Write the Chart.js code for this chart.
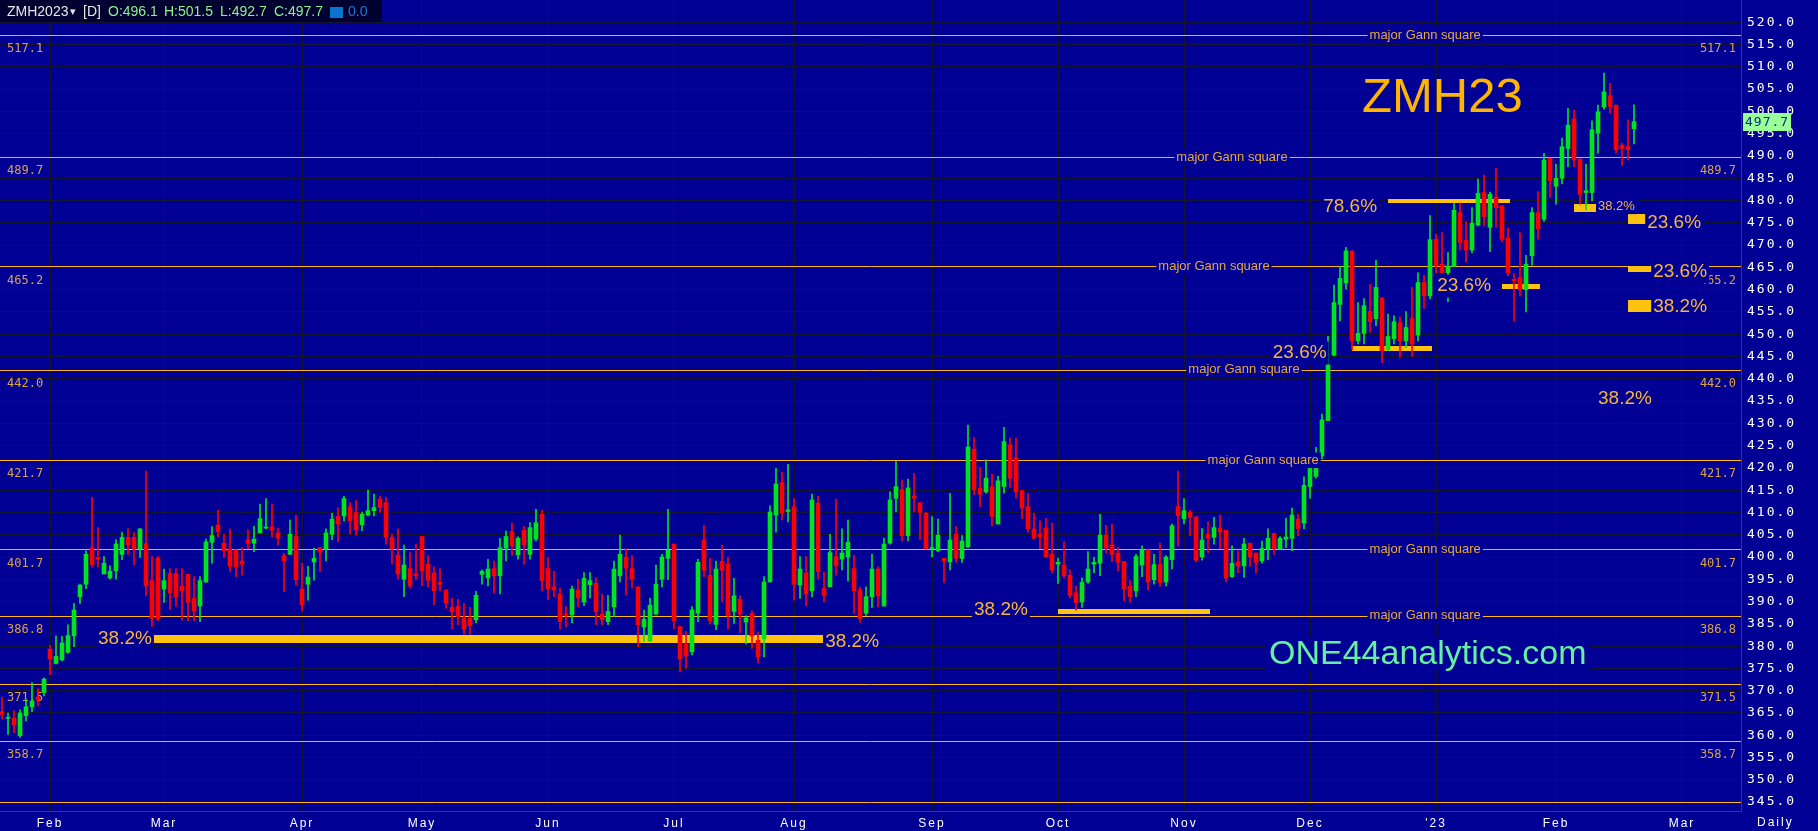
<!DOCTYPE html>
<html>
<head>
<meta charset="utf-8">
<script src="https://cdn.jsdelivr.net/npm/chart.js@4.4.1/dist/chart.umd.min.js"></script>
<style>
  html, body { margin: 0; padding: 0; background: #000094; overflow: hidden; }
</style>
</head>
<body>
<canvas id="chart" width="1818" height="831"></canvas>
<script>
// ================= DATA =================
const symbol = "ZMH2023";

// daily candles, 2022-01-20 .. 2023-02-21 (index = trading day)
const opens = [
  365.3, 363.8, 363.8, 359.9, 364.4, 366.4, 368.6, 369.6, 379.3, 376.1,
  376.9, 378.6, 382.3, 391.1, 393.9, 402.1, 399.9, 396.2, 395.3, 396.9,
  400.6, 404.4, 404.4, 401.8, 403.0, 394.7, 399.7, 392.8, 396.3, 396.3,
  393.5, 396.1, 390.7, 389.0, 394.4, 403.3, 407.2, 403.1, 401.8, 401.6,
  399.1, 403.8, 403.1, 405.4, 406.5, 406.8, 405.4, 400.3, 400.6, 404.6,
  392.8, 393.9, 398.9, 402.1, 401.8, 405.1, 409.1, 409.2, 411.3, 410.0,
  407.2, 409.4, 410.4, 413.0, 412.2, 404.4, 400.4, 395.0, 397.4, 396.2,
  404.6, 398.4, 396.4, 394.3, 392.6, 388.7, 388.9, 386.2, 386.2, 385.9,
  396.1, 395.3, 397.4, 395.8, 402.0, 405.7, 400.5, 406.0, 400.6, 404.0,
  409.6, 397.4, 393.3, 391.7, 387.2, 387.0, 392.6, 389.9, 393.8, 394.1,
  387.2, 385.5, 388.8, 395.8, 400.0, 397.4, 393.3, 384.3, 381.2, 387.2,
  395.0, 399.7, 402.9, 384.4, 380.4, 378.7, 387.4, 403.8, 395.9, 384.9,
  399.0, 398.4, 387.8, 390.5, 385.4, 387.3, 381.3, 381.6, 394.4, 409.4,
  416.7, 410.2, 411.3, 393.7, 396.4, 392.4, 412.1, 392.9, 393.3, 400.1,
  399.5, 400.0, 397.4, 392.6, 387.4, 391.1, 397.3, 389.0, 403.1, 413.2,
  415.1, 404.8, 413.7, 412.2, 409.8, 401.9, 401.4, 399.7, 398.9, 405.1,
  399.7, 402.3, 424.2, 415.4, 414.6, 415.8, 407.4, 415.8, 425.2, 422.3,
  414.9, 411.3, 406.3, 405.1, 406.5, 400.6, 398.4, 398.2, 395.9, 392.0,
  389.9, 394.4, 398.4, 398.6, 404.9, 402.7, 400.9, 399.0, 393.4, 392.4,
  398.2, 401.6, 394.9, 398.3, 394.4, 399.4, 411.3, 408.6, 410.0, 409.0,
  400.0, 405.1, 404.4, 406.4, 406.0, 395.6, 398.9, 398.0, 403.1, 400.9,
  399.1, 401.8, 405.3, 401.8, 404.0, 404.2, 408.5, 407.6, 415.8, 418.1,
  422.7, 430.6, 445.3, 456.7, 461.5, 468.6, 448.5, 450.2, 455.1, 453.5,
  458.1, 446.5, 449.0, 452.6, 448.5, 453.5, 449.8, 461.6, 458.6, 471.3,
  465.7, 463.8, 465.2, 477.3, 471.1, 468.9, 474.5, 481.8, 474.0, 480.8,
  478.8, 471.6, 462.3, 462.7, 460.0, 467.6, 477.3, 475.8, 489.5, 483.2,
  485.0, 491.7, 498.3, 489.3, 481.8, 481.8, 495.1, 501.0, 503.5, 501.4,
  492.4, 492.1, 496.1
];
const highs = [
  368.5, 365.0, 365.5, 365.7, 368.2, 371.8, 370.5, 372.9, 380.2, 382.3,
  382.2, 384.8, 389.6, 393.9, 401.4, 413.4, 406.6, 400.1, 398.0, 403.9,
  405.6, 406.4, 405.5, 406.4, 419.3, 400.1, 400.1, 397.3, 397.4, 397.4,
  397.4, 396.1, 395.6, 395.6, 404.0, 406.8, 410.5, 405.1, 406.3, 401.6,
  402.1, 406.1, 406.9, 411.9, 413.1, 411.9, 406.5, 400.8, 408.3, 409.4,
  398.6, 397.9, 402.0, 402.1, 406.3, 409.8, 411.1, 413.6, 412.2, 412.7,
  410.1, 415.0, 414.1, 413.6, 413.4, 405.1, 406.3, 402.7, 401.0, 402.9,
  404.6, 400.3, 397.8, 397.4, 392.6, 390.7, 390.5, 389.6, 388.7, 392.3,
  397.1, 399.5, 399.1, 404.2, 405.8, 407.6, 404.5, 406.9, 407.7, 410.7,
  410.5, 399.9, 396.8, 393.0, 388.9, 393.5, 395.0, 396.5, 396.5, 395.4,
  391.7, 391.4, 399.1, 404.9, 401.9, 400.3, 393.3, 388.1, 390.7, 398.2,
  400.6, 410.7, 402.9, 384.4, 383.3, 388.9, 399.5, 407.1, 399.7, 399.1,
  402.7, 400.0, 395.2, 391.3, 386.8, 387.9, 383.2, 395.6, 411.5, 419.9,
  419.0, 420.8, 413.1, 400.1, 400.1, 414.1, 413.7, 396.7, 405.1, 413.0,
  406.3, 408.3, 400.4, 393.2, 393.3, 400.6, 397.8, 404.2, 414.6, 421.4,
  417.3, 417.5, 418.8, 412.2, 410.1, 409.1, 408.5, 399.7, 414.3, 406.8,
  404.8, 429.6, 426.8, 420.1, 421.8, 418.6, 418.1, 429.1, 426.7, 426.7,
  415.1, 414.3, 409.8, 408.1, 408.7, 407.6, 399.7, 403.4, 397.1, 393.4,
  395.3, 401.2, 399.9, 409.6, 407.1, 407.4, 402.1, 399.0, 394.7, 400.6,
  402.5, 401.6, 400.6, 403.1, 400.3, 407.4, 419.3, 413.1, 410.5, 409.0,
  406.4, 407.9, 408.9, 409.4, 406.0, 402.5, 401.4, 404.2, 403.1, 400.9,
  403.6, 406.3, 405.3, 404.6, 408.7, 411.0, 409.6, 418.0, 420.1, 424.6,
  432.1, 449.5, 461.0, 465.3, 469.5, 468.9, 457.1, 458.0, 461.2, 466.6,
  458.2, 454.5, 454.1, 453.9, 455.1, 460.5, 463.8, 463.2, 476.6, 472.4,
  472.8, 468.3, 479.4, 479.4, 475.2, 478.4, 484.8, 485.7, 481.9, 487.2,
  478.8, 473.8, 463.6, 472.8, 467.7, 478.4, 482.0, 490.6, 489.5, 488.2,
  494.0, 500.7, 500.3, 489.3, 488.2, 497.9, 501.4, 508.6, 506.3, 501.4,
  492.9, 498.1, 501.5
];
const lows = [
  363.6, 360.2, 360.6, 359.5, 363.2, 365.3, 366.6, 368.8, 373.6, 376.0,
  376.7, 378.4, 379.9, 389.5, 392.9, 397.7, 397.7, 396.2, 395.0, 395.0,
  399.4, 400.6, 398.2, 399.9, 391.3, 384.4, 385.7, 389.8, 388.2, 388.9,
  385.8, 385.7, 385.7, 385.5, 394.3, 398.6, 404.5, 399.9, 396.7, 395.6,
  395.9, 401.8, 401.2, 405.4, 406.3, 404.5, 402.7, 392.2, 400.6, 393.7,
  387.9, 390.3, 394.8, 396.7, 399.1, 403.9, 403.4, 408.1, 405.1, 404.9,
  405.9, 409.2, 409.2, 410.0, 402.9, 398.4, 395.0, 391.1, 393.0, 394.9,
  393.5, 393.3, 389.3, 392.4, 388.5, 383.8, 384.8, 382.7, 382.7, 385.2,
  393.9, 393.5, 391.9, 391.7, 399.1, 400.4, 399.5, 398.4, 399.5, 403.6,
  392.4, 390.5, 391.1, 383.8, 384.3, 385.2, 388.8, 389.1, 390.8, 384.8,
  384.8, 384.8, 386.6, 394.4, 391.5, 393.0, 379.8, 381.0, 381.0, 387.0,
  393.3, 394.9, 383.9, 374.2, 375.0, 378.0, 385.5, 395.6, 384.9, 383.7,
  389.9, 383.9, 385.1, 383.0, 380.5, 379.5, 376.3, 377.6, 394.4, 405.6,
  408.3, 407.9, 390.3, 390.7, 389.0, 391.1, 395.0, 389.9, 393.3, 395.9,
  397.1, 394.6, 387.4, 385.3, 386.9, 388.7, 388.8, 389.0, 402.9, 410.1,
  403.6, 403.6, 410.1, 403.9, 401.8, 400.0, 401.2, 394.3, 397.1, 398.8,
  398.8, 402.1, 414.0, 411.3, 414.3, 407.0, 407.4, 414.3, 415.6, 413.2,
  408.6, 405.6, 404.0, 401.9, 399.9, 396.5, 394.1, 395.3, 390.8, 388.1,
  388.7, 394.1, 396.5, 395.8, 400.9, 399.0, 396.9, 390.2, 389.8, 391.1,
  395.6, 392.6, 393.9, 393.4, 393.5, 397.3, 402.5, 407.4, 404.8, 398.9,
  399.3, 401.0, 402.9, 401.8, 394.4, 395.4, 396.5, 395.4, 397.9, 396.4,
  398.6, 399.4, 400.6, 401.8, 402.1, 401.4, 404.8, 406.3, 413.2, 417.7,
  422.0, 430.6, 445.1, 453.0, 460.1, 446.5, 447.8, 447.8, 450.4, 451.9,
  443.6, 446.3, 447.8, 444.8, 447.0, 445.0, 448.5, 455.8, 457.9, 463.8,
  463.8, 457.3, 465.2, 468.9, 466.2, 468.3, 474.3, 474.3, 468.5, 474.0,
  470.7, 463.1, 453.0, 458.6, 455.0, 465.5, 471.3, 475.3, 480.7, 479.2,
  483.7, 487.6, 487.6, 479.2, 477.9, 479.9, 490.6, 500.5, 499.6, 490.6,
  487.9, 489.1, 492.7
];
const closes = [
  364.7, 364.0, 362.3, 365.0, 366.4, 367.7, 367.9, 372.6, 377.1, 377.7,
  380.7, 382.4, 388.1, 393.7, 400.6, 398.3, 399.5, 398.6, 396.8, 402.9,
  404.4, 402.7, 401.8, 406.3, 393.5, 386.2, 386.1, 394.7, 392.0, 391.1,
  392.4, 389.8, 387.9, 394.7, 403.4, 404.8, 405.7, 401.4, 397.9, 397.8,
  398.4, 403.1, 404.0, 408.6, 406.6, 406.0, 404.2, 399.1, 405.1, 394.9,
  389.3, 395.5, 399.7, 401.1, 405.4, 408.5, 407.4, 413.1, 408.1, 406.1,
  409.6, 410.4, 411.1, 411.1, 404.4, 401.8, 396.2, 398.2, 393.5, 395.8,
  396.9, 394.8, 392.4, 393.9, 389.6, 387.7, 386.6, 383.8, 384.6, 391.4,
  396.8, 397.3, 395.8, 402.1, 404.6, 402.5, 404.2, 402.7, 406.6, 407.7,
  394.7, 392.8, 392.6, 385.5, 387.0, 392.8, 390.8, 395.2, 394.7, 387.7,
  385.9, 387.8, 397.3, 400.6, 397.5, 395.0, 384.8, 386.0, 389.2, 393.9,
  400.0, 401.5, 385.7, 377.1, 377.8, 388.1, 398.8, 397.0, 385.7, 397.3,
  397.0, 386.9, 391.3, 387.2, 386.3, 382.3, 377.6, 394.4, 410.1, 416.4,
  409.8, 410.6, 393.9, 397.3, 391.7, 412.8, 396.7, 391.4, 401.0, 398.0,
  400.9, 403.3, 392.4, 386.2, 391.1, 397.3, 391.3, 402.9, 412.8, 415.8,
  404.8, 415.5, 413.2, 410.0, 401.8, 402.0, 404.9, 399.1, 403.8, 399.7,
  403.6, 424.7, 415.1, 414.1, 417.7, 409.1, 417.1, 425.9, 417.7, 414.6,
  411.0, 406.3, 404.2, 404.5, 400.0, 397.1, 398.8, 395.8, 391.4, 389.8,
  394.3, 397.3, 398.8, 404.9, 402.0, 400.6, 398.8, 392.8, 391.1, 400.1,
  401.6, 394.4, 398.3, 394.3, 400.0, 407.0, 409.3, 410.4, 408.9, 399.3,
  403.8, 404.2, 406.6, 405.6, 395.3, 398.6, 398.0, 402.9, 400.0, 398.8,
  401.9, 404.2, 401.9, 404.2, 404.5, 409.4, 406.4, 416.1, 419.9, 420.1,
  430.8, 443.1, 457.1, 462.5, 468.7, 448.5, 450.2, 456.4, 452.8, 460.5,
  446.3, 449.5, 452.8, 448.5, 451.5, 447.8, 461.6, 458.6, 471.2, 465.3,
  463.8, 465.3, 477.8, 470.6, 468.9, 474.9, 481.6, 476.4, 481.4, 478.4,
  471.3, 463.8, 462.0, 460.0, 465.7, 477.3, 473.6, 489.1, 484.4, 485.0,
  492.1, 496.9, 489.1, 481.4, 482.2, 495.9, 499.9, 504.4, 501.1, 491.4,
  491.7, 491.4, 497.7
];

// x axis: month labels at the first trading day of each month
const monthNames = ["Feb", "Mar", "Apr", "May", "Jun", "Jul", "Aug", "Sep", "Oct", "Nov", "Dec", "'23", "Feb", "Mar"];
const monthIdx   = [8, 27, 50, 70, 91, 112, 132, 155, 176, 197, 218, 239, 259, 280];

// y axis ticks
const priceTicks = [];
for (let v = 345; v <= 520; v += 5) priceTicks.push(v);

// "major Gann square" levels and where their label sits (bar index)
const gannLevels = [517.1, 489.7, 465.2, 442.0, 421.7, 401.7, 386.8, 371.5, 358.7];
const gannTagIdx = [237.2, 205, 202, 207, 210.2, 237.2, 237.2, null, null];
const baseLevels = [345.0];

// fib markers: [price, from index, to index]
const fibBars = [
  [381.6, 25.2, 136.8],
  [387.7, 176, 201.3],
  [446.8, 225, 238.3],
  [479.9, 231, 251.3],
  [460.7, 250, 256.3],
  [478.3, 262, 266],
  [475.9, 271, 274],
  [464.6, 271, 275],
  [456.4, 271, 275]
];
// fib texts: [text, index (left edge), price]
const fibTexts = [
  ["38.2%", 16, 381.6],
  ["38.2%", 137.2, 380.9],
  ["38.2%", 162, 388.1],
  ["23.6%", 211.8, 445.8],
  ["78.6%", 220.2, 478.7],
  ["23.6%", 239.2, 460.8],
  ["38.2%", 266, 478.7],
  ["23.6%", 274.2, 474.9],
  ["23.6%", 275.2, 464.0],
  ["38.2%", 275.2, 456.1],
  ["38.2%", 266, 435.4]
];

// ================= STYLE =================
const NAVY = "#000094";
const GRID = "#14142a";
const GREEN = "#00e41c";
const RED = "#ff0000";
const LINE = "#ffb61e";
const BAR = "#ffc20e";
const TXT = "#f7b53a";
const LBL = "#dca24a";

const fibBarPx = [8, 5, 5, 4, 5, 8, 10, 6, 12];
const fibFontPx = [19, 19, 19, 19, 19, 19, 13, 19, 19, 19, 19];

const colors = closes.map((c, i) => c >= opens[i] ? GREEN : RED);
const last = closes.length - 1;

function tag(c, txt, px, py, font, color, align) {
  c.font = font;
  c.textAlign = align;
  c.textBaseline = "middle";
  const w = c.measureText(txt).width;
  const size = parseInt(font.match(/(\d+)px/)[1]);
  const x0 = align === "center" ? px - w / 2 : px;
  c.fillStyle = NAVY;
  c.fillRect(x0 - 2, py - size * 0.6, w + 4, size * 1.2);
  c.fillStyle = color;
  c.fillText(txt, px, py);
}

// ================= PLUGIN =================
const decor = {
  id: "decor",
  beforeDraw(chart) {
    const c = chart.ctx;
    c.save();
    c.fillStyle = NAVY;
    c.fillRect(0, 0, chart.width, chart.height);
    c.restore();
    c.letterSpacing = "2px";
  },
  beforeDatasetsDraw(chart) {
    const c = chart.ctx, xs = chart.scales.x, ys = chart.scales.y, a = chart.chartArea;
    c.letterSpacing = "0px";
    c.save();

    c.strokeStyle = LINE;
    c.lineWidth = 1;
    gannLevels.concat(baseLevels).forEach(v => {
      const py = Math.round(ys.getPixelForValue(v)) + 0.5;
      c.beginPath();
      c.moveTo(a.left, py);
      c.lineTo(a.right, py);
      c.stroke();
    });

    c.fillStyle = BAR;
    fibBars.forEach((b, k) => {
      const x0 = xs.getPixelForValue(b[1]);
      const x1 = xs.getPixelForValue(b[2]);
      const py = ys.getPixelForValue(b[0]);
      const h = fibBarPx[k];
      c.fillRect(Math.round(x0), Math.round(py - h / 2), Math.round(x1 - x0), h);
    });

    c.font = '12px "DejaVu Sans Mono"';
    c.fillStyle = LBL;
    c.textBaseline = "middle";
    gannLevels.forEach(v => {
      const py = ys.getPixelForValue(v) + 14;
      c.textAlign = "left";
      c.fillText(v.toFixed(1), a.left + 7, py);
      c.textAlign = "right";
      c.fillText(v.toFixed(1), a.right - 5, py);
    });
    c.restore();
  },
  afterDatasetsDraw(chart) {
    const c = chart.ctx, xs = chart.scales.x, ys = chart.scales.y;
    c.save();
    c.letterSpacing = "0px";

    gannLevels.forEach((v, k) => {
      if (gannTagIdx[k] === null) return;
      tag(c, "major Gann square", xs.getPixelForValue(gannTagIdx[k]), ys.getPixelForValue(v),
        '13px "Liberation Sans"', "#e9a93a", "center");
    });

    fibTexts.forEach((t, k) => {
      tag(c, t[0], xs.getPixelForValue(t[1]), ys.getPixelForValue(t[2]),
        fibFontPx[k] + 'px "Liberation Sans"', TXT, "left");
    });

    // big symbol + site
    c.textAlign = "left";
    c.textBaseline = "alphabetic";
    c.font = '49px "Liberation Sans"';
    c.fillStyle = "#ffb400";
    c.fillText("ZMH23", 1362, 112);

    c.font = '34px "Liberation Sans"';
    const site = "ONE44analytics.com";
    const sw = c.measureText(site).width;
    c.fillStyle = NAVY;
    c.fillRect(1266, 638, sw + 6, 32);
    c.fillStyle = "#66f0a0";
    c.fillText(site, 1269, 664);
    c.restore();
  },
  afterDraw(chart) {
    const c = chart.ctx, ys = chart.scales.y, a = chart.chartArea;
    c.save();
    c.letterSpacing = "0px";

    // last price marker on the axis
    const py = ys.getPixelForValue(closes[last]);
    c.fillStyle = "#99ff99";
    c.fillRect(a.right + 2, Math.round(py) - 9, 48, 18);
    c.font = '13px "DejaVu Sans Mono"';
    c.letterSpacing = "1px";
    c.fillStyle = "#0a2a8a";
    c.textAlign = "left";
    c.textBaseline = "middle";
    c.fillText(closes[last].toFixed(1), a.right + 4, py + 1);

    // period label
    c.font = '12px "Liberation Sans"';
    c.letterSpacing = "2px";
    c.fillStyle = "#ffffff";
    c.fillText("Daily", a.right + 16, 823);
    c.letterSpacing = "0px";

    // header box
    c.fillStyle = "#000030";
    c.fillRect(0, 0, 382, 22);
    c.font = '14px "Liberation Sans"';
    c.fillStyle = "#e6e6e6";
    c.fillText(symbol, 7, 12);
    c.font = '11px "DejaVu Sans"';
    c.fillText("\u25BE", 70, 12);
    c.font = '14px "Liberation Sans"';
    c.fillText("[D]", 83, 12);
    c.fillStyle = "#8ef08e";
    c.fillText("O:" + opens[last].toFixed(1), 108, 12);
    c.fillText("H:" + highs[last].toFixed(1), 164, 12);
    c.fillText("L:" + lows[last].toFixed(1), 220, 12);
    c.fillText("C:" + closes[last].toFixed(1), 274, 12);
    c.fillStyle = "#0a74d0";
    c.fillRect(330, 7, 13, 11);
    c.fillStyle = "#1a7ad6";
    c.fillText("0.0", 348, 12);
    c.restore();
  }
};

// ================= CHART =================
const ctx = document.getElementById("chart").getContext("2d");

new Chart(ctx, {
  type: "bar",
  data: {
    datasets: [
      {
        label: "body",
        data: opens.map((o, i) => ({ x: i, y: [o, closes[i]] })),
        backgroundColor: colors,
        borderWidth: 0,
        barThickness: 4,
        minBarLength: 1,
        grouped: false,
        order: 0
      },
      {
        label: "wick",
        data: lows.map((l, i) => ({ x: i, y: [l, highs[i]] })),
        backgroundColor: colors,
        borderWidth: 0,
        barThickness: 1,
        grouped: false,
        order: 1
      }
    ]
  },
  options: {
    responsive: false,
    animation: false,
    events: [],
    layout: { padding: 0 },
    plugins: {
      legend: { display: false },
      tooltip: { enabled: false }
    },
    scales: {
      x: {
        type: "linear",
        min: -1 / 3,
        max: 1741 / 6 - 1 / 3,
        offset: false,
        afterBuildTicks: s => { s.ticks = monthIdx.map(v => ({ value: v })); },
        afterFit: s => { s.height = 20; s.paddingLeft = 0; s.paddingRight = 0; },
        ticks: {
          callback: (v, i) => monthNames[i],
          color: "#ffffff",
          font: { family: "Liberation Sans", size: 12 },
          autoSkip: false,
          maxRotation: 0,
          padding: 5
        },
        grid: { color: GRID, drawTicks: false, offset: false },
        border: { color: "#3c3c50" }
      },
      y: {
        position: "right",
        min: 343,
        max: 525,
        afterBuildTicks: s => { s.ticks = priceTicks.map(v => ({ value: v })); },
        afterFit: s => { s.width = 77; s.paddingTop = 0; s.paddingBottom = 0; },
        ticks: {
          callback: v => v.toFixed(1),
          color: "#ffffff",
          font: { family: "DejaVu Sans Mono", size: 13 },
          padding: 6
        },
        grid: { color: GRID, drawTicks: false },
        border: { color: "#3c3c50" }
      }
    }
  },
  plugins: [decor]
});
</script>
</body>
</html>
